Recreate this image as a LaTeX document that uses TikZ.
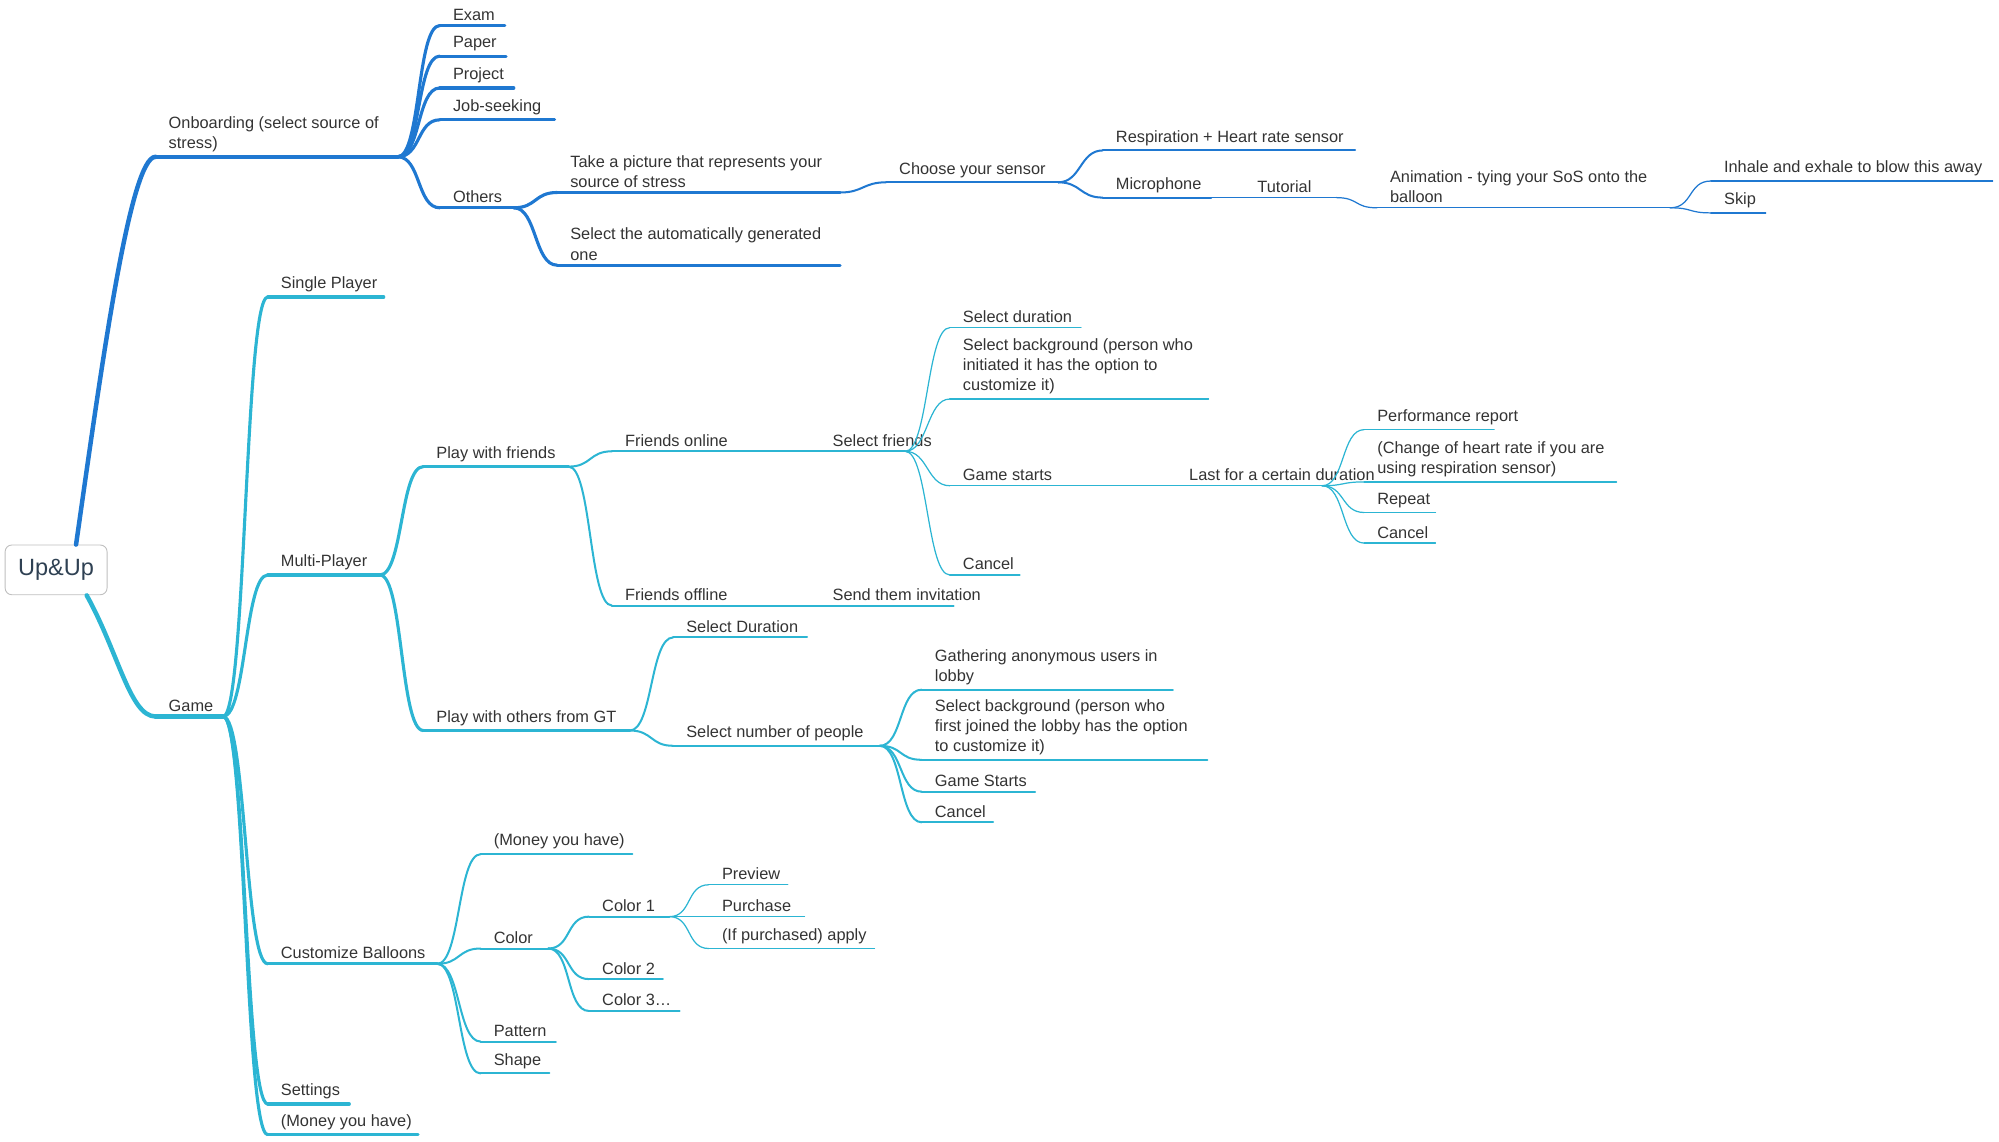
\documentclass[tikz,border=0pt]{standalone}
\usepackage{fontspec}
\setmainfont{Liberation Sans}
\usetikzlibrary{positioning}
\definecolor{obblue}{HTML}{1F78D1}
\definecolor{gmcyan}{HTML}{2CB5D3}
\definecolor{txtgray}{HTML}{333333}
\tikzset{
  lbl/.style = {anchor = south west, inner sep = 0pt, align = left, text = txtgray, font = \fontsize{7.3}{9}\selectfont},
  lv1/.style = {line width = 2pt, line cap = round},
  lv2/.style = {line width = 1.4pt, line cap = round},
  lv3/.style = {line width = 0.9pt, line cap = round},
  lv4/.style = {line width = 0.55pt, line cap = round}
}
% \mnode{style}{name}{x}{y}{xend}{text}
\newcommand{\mnode}[6]{
  \coordinate (#2-s) at (#3,-#4);
  \coordinate (#2-e) at (#5,-#4);
  \node[lbl] (#2) at (#3+10,-#4+3.5) {#6};
  \draw[#1] (#2-s) -- (#2-e);
}
% \mlink{style}{parent}{child}
\newcommand{\mlink}[3]{
  \draw[#1] (#2-e) .. controls +(18,0) and +(-18,0) .. (#3-s);
}
\begin{document}
\begin{tikzpicture}[x = 0.02cm, y = 0.02cm]
    \useasboundingbox (0,0) rectangle (1568,-895);
    % root
    \node(root)[draw = gray!50, rounded corners = 3pt, fill = white, minimum width = 1.6cm, minimum height = 0.78cm, text = txtgray!80!obblue, font = \fontsize{10.5}{12}\selectfont] at (44,-447) {Up\&Up};

    % onboarding branch
    \begin{scope}[obblue]
    \mnode{lv1}{onb}{122}{123}{312}{Onboarding (select source of\\stress)}
    \draw[lv1] (root.north west)++(56,0) .. controls +(20,140) and +(-20,0) .. (onb-s);
    \mnode{lv2}{exam}{345}{20}{396}{Exam}
    \mnode{lv2}{paper}{345}{44}{397}{Paper}
    \mnode{lv2}{proj}{345}{69}{403}{Project}
    \mnode{lv2}{job}{345}{94}{435}{Job-seeking}
    \mnode{lv2}{others}{345}{163}{403}{Others}
    \foreach \c in {exam, paper, proj, job, others} {\mlink{lv2}{onb}{\c}}
    \mnode{lv2}{pic}{437}{151}{659}{Take a picture that represents your\\source of stress}
    \mnode{lv2}{auto}{437}{208}{659}{Select the automatically generated\\one}
    \mlink{lv2}{others}{pic}
    \mlink{lv2}{others}{auto}
    \mnode{lv3}{sensor}{695}{143}{830}{Choose your sensor}
    \mlink{lv3}{pic}{sensor}
    \mnode{lv3}{resp}{865}{118}{1063}{Respiration + Heart rate sensor}
    \mnode{lv3}{micro}{865}{155}{950}{Microphone}
    \mlink{lv3}{sensor}{resp}
    \mlink{lv3}{sensor}{micro}
    \mnode{lv4}{tut}{950}{155}{1048}{\hspace{37\pgflinewidth}Tutorial}
    \mnode{lv4}{anim}{1080}{163}{1310}{Animation - tying your SoS onto the\\balloon}
    \mlink{lv4}{tut}{anim}
    \mnode{lv4}{inhale}{1342}{142}{1563}{Inhale and exhale to blow this away}
    \mnode{lv4}{skip}{1342}{167}{1385}{Skip}
    \mlink{lv4}{anim}{inhale}
    \mlink{lv4}{anim}{skip}
    \end{scope}

    % game branch
    \begin{scope}[gmcyan]
    \mnode{lv1}{game}{122}{562}{175}{Game}
    \draw[lv1] (68,-467) .. controls +(25,-45) and +(-20,0) .. (game-s);
    \mnode{lv2}{single}{210}{233}{301}{Single Player}
    \mnode{lv2}{multi}{210}{451}{298}{Multi-Player}
    \mnode{lv2}{cust}{210}{756}{343}{Customize Balloons}
    \mnode{lv2}{sett}{210}{866}{274}{Settings}
    \mnode{lv2}{money}{210}{890}{328}{(Money you have)}
    \foreach \c in {single, multi, cust, sett, money} {\mlink{lv2}{game}{\c}}

    \mnode{lv2}{pwf}{332}{366}{446}{Play with friends}
    \mnode{lv2}{pwo}{332}{573}{494}{Play with others from GT}
    \mlink{lv2}{multi}{pwf}
    \mlink{lv2}{multi}{pwo}
    \mnode{lv3}{fon}{480}{354}{576}{Friends online}
    \mnode{lv3}{foff}{480}{475}{576}{Friends offline}
    \mlink{lv3}{pwf}{fon}
    \mlink{lv3}{pwf}{foff}
    \mnode{lv3}{self}{576}{354}{710}{\hspace{38pt}Select friends}
    \mnode{lv3}{inv}{576}{475}{748}{\hspace{38pt}Send them invitation}
    \mnode{lv4}{sdur}{745}{257}{848}{Select duration}
    \mnode{lv4}{sbg}{745}{313}{948}{Select background (person who\\initiated it has the option to\\customize it)}
    \mnode{lv4}{gst}{745}{381}{868}{Game starts}
    \mnode{lv4}{canc}{745}{451}{800}{Cancel}
    \foreach \c in {sdur, sbg, gst, canc} {\mlink{lv4}{self}{\c}}
    \mnode{lv4}{last}{868}{381}{1037}{\hspace{31pt}Last for a certain duration}
    \mnode{lv4}{perf}{1070}{337}{1172}{Performance report}
    \mnode{lv4}{chg}{1070}{378}{1268}{(Change of heart rate if you are\\using respiration sensor)}
    \mnode{lv4}{rep}{1070}{402}{1126}{Repeat}
    \mnode{lv4}{canc2}{1070}{426}{1126}{Cancel}
    \foreach \c in {perf, chg, rep, canc2} {\mlink{lv4}{last}{\c}}

    \mnode{lv3}{sdur2}{528}{500}{633}{Select Duration}
    \mnode{lv3}{snum}{528}{585}{690}{Select number of people}
    \mlink{lv3}{pwo}{sdur2}
    \mlink{lv3}{pwo}{snum}
    \mnode{lv3}{gath}{723}{541}{920}{Gathering anonymous users in\\lobby}
    \mnode{lv3}{sbg2}{723}{596}{947}{Select background (person who\\first joined the lobby has the option\\to customize it)}
    \mnode{lv3}{gst2}{723}{621}{812}{Game Starts}
    \mnode{lv3}{canc3}{723}{645}{779}{Cancel}
    \foreach \c in {gath, sbg2, gst2, canc3} {\mlink{lv3}{snum}{\c}}

    \mnode{lv3}{money2}{377}{670}{496}{(Money you have)}
    \mnode{lv3}{color}{377}{744}{430}{Color}
    \mnode{lv3}{patt}{377}{817}{436}{Pattern}
    \mnode{lv3}{shape}{377}{842}{431}{Shape}
    \foreach \c in {money2, color, patt, shape} {\mlink{lv3}{cust}{\c}}
    \mnode{lv3}{col1}{462}{719}{525}{Color 1}
    \mnode{lv3}{col2}{462}{768}{520}{Color 2}
    \mnode{lv3}{col3}{462}{793}{533}{Color 3…}
    \foreach \c in {col1, col2, col3} {\mlink{lv3}{color}{\c}}
    \mnode{lv4}{prev}{556}{694}{618}{Preview}
    \mnode{lv4}{purch}{556}{719}{631}{Purchase}
    \mnode{lv4}{apply}{556}{744}{686}{(If purchased) apply}
    \foreach \c in {prev, purch, apply} {\mlink{lv4}{col1}{\c}}
    \end{scope}
\end{tikzpicture}
\end{document}
